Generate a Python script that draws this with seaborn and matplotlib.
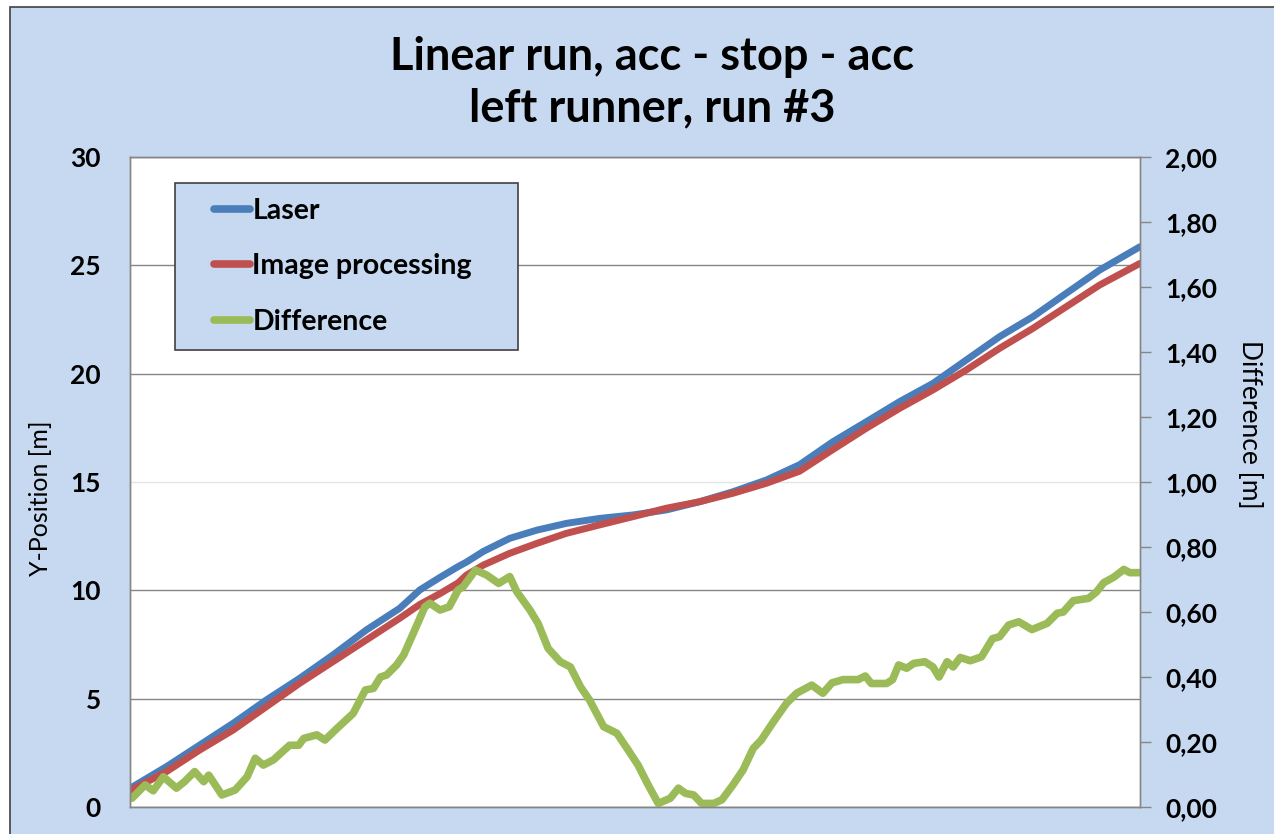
import numpy as np
import pandas as pd
import matplotlib
matplotlib.use("Agg")
import matplotlib.pyplot as plt
import matplotlib.patches as patches
from matplotlib.lines import Line2D
from matplotlib.legend_handler import HandlerLine2D
import seaborn as sns

# position along the run (hidden x axis, 0..100)
t_pos = [0, 3.6, 6.9, 10.2, 13.5, 16.8, 20.1, 23.4, 26.7, 28.7, 30.7, 32.5,
         33.3, 35.0, 37.6, 40.3, 43.2, 46.5, 49.8, 53.1, 56.4, 59.7, 63.0,
         66.3, 69.6, 72.9, 76.2, 79.5, 82.8, 86.1, 89.4, 92.7, 96.0, 100]

laser = [0.86, 1.86, 2.86, 3.86, 4.94, 5.94, 7.02, 8.17, 9.17, 10.02, 10.6,
         11.1, 11.3, 11.8, 12.40, 12.78, 13.09, 13.32, 13.48, 13.71, 14.09,
         14.55, 15.09, 15.8, 16.86, 17.78, 18.71, 19.55, 20.63, 21.71, 22.63,
         23.71, 24.78, 25.86]

image_proc = [0.75, 1.63, 2.63, 3.55, 4.63, 5.71, 6.71, 7.71, 8.71, 9.35, 9.85,
              10.35, 10.7, 11.17, 11.71, 12.17, 12.63, 13.02, 13.40, 13.79,
              14.09, 14.48, 14.94, 15.5, 16.5, 17.48, 18.40, 19.25, 20.17,
              21.17, 22.09, 23.09, 24.09, 25.09]

t_diff = [0.2, 1.5, 2.3, 3.3, 4.6, 5.4, 6.4, 7.3, 7.8, 9.1, 10.4, 11.6, 12.4,
          13.2, 14.2, 15.8, 16.7, 17.2, 18.5, 19.3, 20.5, 22.1, 23.3, 24.1,
          24.8, 25.4, 26.4, 27.1, 27.9, 29.2, 29.7, 30.7, 31.6, 32.5, 33.0,
          34.2, 35.3, 36.5, 37.6, 38.3, 39.6, 40.4, 41.4, 42.6, 43.6, 44.6,
          45.5, 46.9, 48.2, 49.2, 50.3, 51.3, 52.3, 53.5, 54.3, 55.0, 55.8,
          56.6, 57.8, 58.6, 59.7, 60.7, 61.7, 62.5, 63.7, 65.0, 66.0, 67.5,
          68.6, 69.5, 70.6, 72.1, 72.8, 73.4, 74.9, 75.5, 76.1, 76.9, 77.6,
          78.7, 79.5, 80.1, 80.9, 81.5, 82.2, 83.2, 84.3, 85.4, 86.1, 87.0,
          88.0, 89.3, 90.8, 91.8, 92.4, 93.4, 94.9, 95.7, 96.4, 97.4, 98.4,
          99.0, 100]

difference = [0.027, 0.068, 0.05, 0.093, 0.058, 0.078, 0.109, 0.078, 0.098,
              0.037, 0.052, 0.093, 0.15, 0.129, 0.145, 0.19, 0.19, 0.211,
              0.222, 0.206, 0.242, 0.288, 0.36, 0.365, 0.40, 0.406, 0.437,
              0.468, 0.524, 0.616, 0.627, 0.606, 0.616, 0.668, 0.678, 0.729,
              0.714, 0.688, 0.709, 0.662, 0.606, 0.565, 0.488, 0.447, 0.431,
              0.37, 0.329, 0.247, 0.227, 0.181, 0.129, 0.068, 0.011, 0.027,
              0.058, 0.042, 0.037, 0.011, 0.011, 0.022, 0.068, 0.114, 0.18,
              0.206, 0.262, 0.319, 0.35, 0.375, 0.35, 0.382, 0.392, 0.392,
              0.403, 0.38, 0.38, 0.392, 0.437, 0.427, 0.442, 0.447, 0.431,
              0.40, 0.447, 0.431, 0.46, 0.45, 0.462, 0.518, 0.524, 0.56, 0.57,
              0.546, 0.565, 0.596, 0.60, 0.635, 0.642, 0.662, 0.69, 0.707,
              0.731, 0.721, 0.721]

left_ticks = [0, 5, 10, 15, 20, 25, 30]
right_ticks = [0.0, 0.2, 0.4, 0.6, 0.8, 1.0, 1.2, 1.4, 1.6, 1.8, 2.0]
legend_labels = ["Laser", "Image processing", "Difference"]

BG = "#C6D9F0"
BLUE = "#4A7EBB"
RED = "#C0504D"
GREEN = "#9BBB59"
GRID = "#868686"

sns.set_theme(style="white")
plt.rcParams["font.family"] = ["Lato", "DejaVu Sans"]

pos_df = pd.DataFrame({"t": t_pos, "Laser": laser, "Image processing": image_proc})
diff_df = pd.DataFrame({"t": t_diff, "Difference": difference})

fig = plt.figure(figsize=(12.74, 8.34), dpi=100)
fig.patch.set_facecolor("white")
fig.patches.append(patches.Rectangle(
    (10 / 1274, -0.02), 1.0, 1 - 7 / 834 + 0.02, transform=fig.transFigure,
    facecolor=BG, edgecolor="#404040", lw=1.2, zorder=-10))

ax = fig.add_axes([130 / 1274, 1 - 807 / 834, 1010 / 1274, 650 / 834])
ax.set_facecolor("white")

line_kw = dict(solid_capstyle="round", solid_joinstyle="round")
sns.lineplot(data=pos_df, x="t", y="Laser", ax=ax, color=BLUE, lw=5, **line_kw)
sns.lineplot(data=pos_df, x="t", y="Image processing", ax=ax, color=RED, lw=5,
             **line_kw)

ax.set_xlim(0, 100)
ax.set_ylim(0, 30)
ax.set_yticks(left_ticks)
ax.set_yticklabels([str(v) for v in left_ticks], fontsize=19, fontweight="bold")
ax.set_xticks([])
ax.set_xlabel("")
ax.grid(axis="y", color=GRID, lw=1)
for gl, v in zip(ax.get_ygridlines(), left_ticks):
    if v == 15:
        gl.set_color("#E4E4E4")
ax.tick_params(axis="y", length=0, pad=21, colors="black")
for s in ax.spines.values():
    s.set_color(GRID)
    s.set_linewidth(1)
ax.set_ylabel("Y-Position [m]", fontsize=18, color="black")
ax.yaxis.set_label_coords(-0.077, 0.475)

ax2 = ax.twinx()
sns.lineplot(data=diff_df, x="t", y="Difference", ax=ax2, color=GREEN, lw=5.5,
             **line_kw)
ax2.set_ylim(0, 2)
ax2.set_yticks(right_ticks)
ax2.set_yticklabels([f"{v:.2f}".replace(".", ",") for v in right_ticks],
                    fontsize=19, fontweight="bold")
ax2.tick_params(axis="y", length=8, width=1, color=GRID, labelcolor="black",
                pad=10, direction="out")
ax2.set_xlim(0, 100)
ax2.set_xticks([])
ax2.set_xlabel("")
for s in ax2.spines.values():
    s.set_color(GRID)
    s.set_linewidth(1)
ax2.set_ylabel("Difference [m]", fontsize=19, rotation=-90, color="black")
ax2.yaxis.set_label_coords(1.121, 0.588)

handles = [Line2D([], [], color=c, lw=5.5, solid_capstyle="round")
           for c in (BLUE, RED, GREEN)]
leg = ax2.legend(handles, legend_labels,
                 loc="upper left", bbox_to_anchor=(0.0446, 0.96, 0.34, 0.0),
                 mode="expand", borderaxespad=0, frameon=True, fancybox=False,
                 prop={"size": 20.5, "weight": "bold"}, handlelength=2.1,
                 handletextpad=0.1, labelspacing=1.04, borderpad=0.52,
                 handler_map={Line2D: HandlerLine2D(xpad=0.86)})
leg.get_frame().set_facecolor(BG)
leg.get_frame().set_edgecolor("#404040")
leg.get_frame().set_linewidth(1.2)
leg.get_frame().set_alpha(1)
for txt in leg.get_texts():
    txt.set_color("black")

fig.text(652 / 1274, 1 - 57 / 834, "Linear run, acc - stop - acc", ha="center",
         va="center", fontsize=32.5, fontweight="bold", color="black")
fig.text(652 / 1274, 1 - 108 / 834, "left runner, run #3", ha="center",
         va="center", fontsize=32.5, fontweight="bold", color="black")

fig.savefig("out.png", dpi=100, facecolor=fig.get_facecolor())
